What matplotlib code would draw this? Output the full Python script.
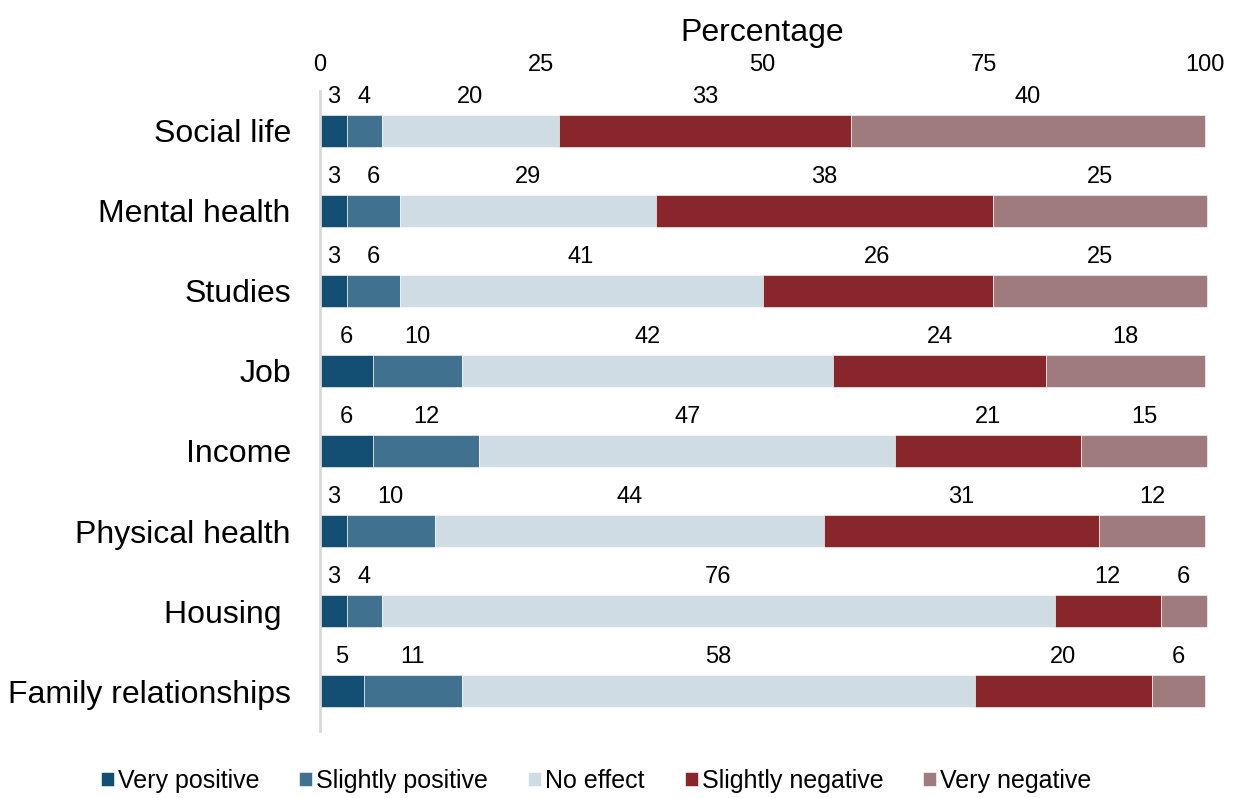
import matplotlib.pyplot as plt
import numpy as np

plt.rcParams['font.family'] = ['Liberation Sans', 'DejaVu Sans']

categories = ["Social life", "Mental health", "Studies", "Job", "Income",
              "Physical health", "Housing ", "Family relationships"]
series = ["Very positive", "Slightly positive", "No effect",
          "Slightly negative", "Very negative"]

# bar widths (percent)
very_positive = [3, 3, 3, 6, 6, 3, 3, 5]
slightly_positive = [4, 6, 6, 10, 12, 10, 4, 11]
no_effect = [20, 29, 41, 42, 47, 44, 76, 58]
slightly_negative = [33, 38, 26, 24, 21, 31, 12, 20]
very_negative = [40, 24.2, 24.2, 18, 14.2, 12, 5.2, 6]

# printed labels
lab_very_positive = [3, 3, 3, 6, 6, 3, 3, 5]
lab_slightly_positive = [4, 6, 6, 10, 12, 10, 4, 11]
lab_no_effect = [20, 29, 41, 42, 47, 44, 76, 58]
lab_slightly_negative = [33, 38, 26, 24, 21, 31, 12, 20]
lab_very_negative = [40, 25, 25, 18, 15, 12, 6, 6]

colors = ["#124f72", "#40728f", "#cfdce4", "#89262c", "#a07b7e"]

widths = [very_positive, slightly_positive, no_effect, slightly_negative, very_negative]
labels = [lab_very_positive, lab_slightly_positive, lab_no_effect,
          lab_slightly_negative, lab_very_negative]

fig = plt.figure(figsize=(12.34, 7.98), dpi=100)
ax = fig.add_axes([320/1234, 1-731/798, 885/1234, 640/798])

y = np.arange(len(categories))
left = np.zeros(len(categories))
for name, w, lab, c in zip(series, widths, labels, colors):
    w = np.array(w, dtype=float)
    ax.barh(y, w, left=left, height=0.4, color=c, edgecolor='white',
            linewidth=0.4, label=name, clip_on=False)
    for yi, l, wi, t in zip(y, left, w, lab):
        ax.text(l + wi/2, yi - 0.42, str(t), ha='center', va='center',
                fontsize=17, color='black')
    left += w

ax.set_xlim(0, 100)
ax.set_ylim(len(categories) - 0.5, -0.5)
ax.xaxis.tick_top()
ax.xaxis.set_label_position('top')
ax.set_xticks([0, 25, 50, 75, 100])
ax.tick_params(axis='x', length=0, labelsize=17, pad=11)
ax.set_xlabel("Percentage", fontsize=23, labelpad=9)
ax.set_yticks(y)
ax.set_yticklabels(categories, fontsize=23)
ax.tick_params(axis='y', length=0, pad=21)
for s in ['top', 'right', 'bottom']:
    ax.spines[s].set_visible(False)
ax.spines['left'].set_color('#d9d9d9')
ax.spines['left'].set_linewidth(2)

fig.legend(loc='center', bbox_to_anchor=(596/1234, 1-781/798), ncol=5, frameon=False,
           fontsize=18, handlelength=0.52, handleheight=0.52, handletextpad=0.16,
           columnspacing=1.6)

fig.savefig("out.png", dpi=100)
